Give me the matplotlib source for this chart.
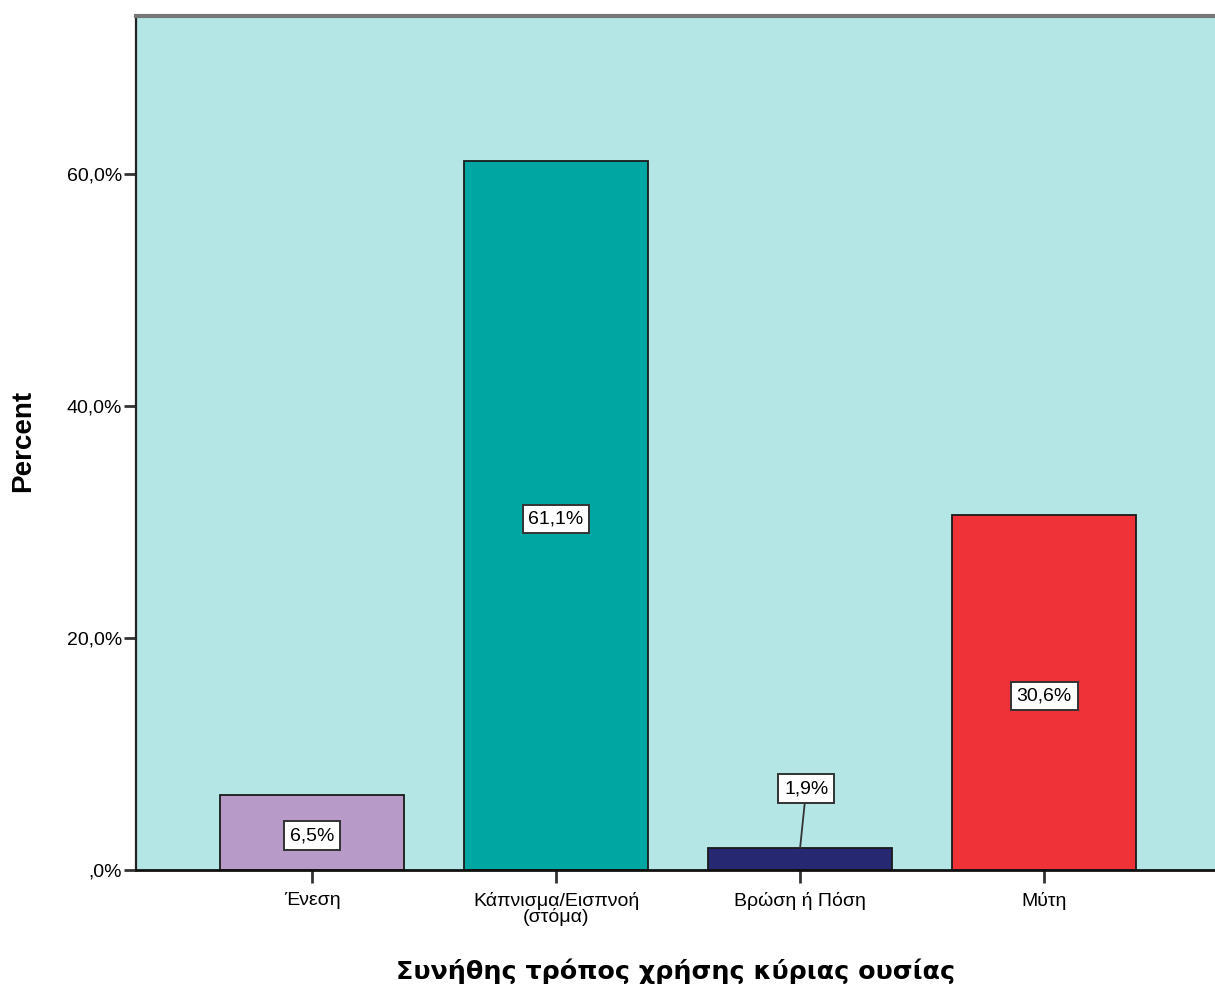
import matplotlib.pyplot as plt
from matplotlib.ticker import FuncFormatter

CATEGORIES = ["Ένεση", "Κάπνισμα/Εισπνοή\n(στόμα)", "Βρώση ή Πόση", "Μύτη"]
PERCENTS = [6.5, 61.1, 1.9, 30.6]
BAR_COLORS = ["#B89AC8", "#00A6A2", "#262872", "#EF3238"]
Y_TICKS = [0, 20, 40, 60]

plt.rcParams["font.family"] = ["Liberation Sans", "DejaVu Sans"]


def pct_label(value: float) -> str:
    text = f"{value:.1f}".replace(".", ",")
    if text.startswith("0,"):
        text = text[1:]
    return text + "%"


fig = plt.figure(figsize=(12.15, 9.85), dpi=100)
ax = fig.add_axes([136 / 1215, 1 - 870 / 985, 1 - 136 / 1215, (870 - 16) / 985])
ax.set_facecolor("#B4E6E6")

x = list(range(len(CATEGORIES)))
ax.bar(x, PERCENTS, width=0.754, color=BAR_COLORS, edgecolor="#1a1a1a",
       linewidth=1.3, zorder=2)

box = dict(boxstyle="square,pad=0.3", facecolor="white", edgecolor="#333333",
           linewidth=1.4)
for xi, value in zip(x, PERCENTS):
    label = pct_label(value)
    if value < 4:
        ax.annotate(label, xy=(xi, value), xytext=(xi + 0.025, value + 5.1),
                    ha="center", va="center", fontsize=14, bbox=box,
                    arrowprops=dict(arrowstyle="-", color="#333333", lw=1.3,
                                    shrinkA=0, shrinkB=0), zorder=3)
    else:
        ax.text(xi, value / 2 - 0.3, label, ha="center", va="center",
                fontsize=14, bbox=box, zorder=3)

ax.set_xlim(-0.721, 3.70)
ax.set_ylim(0, 73.6)
ax.set_xticks(x)
ax.set_xticklabels(CATEGORIES, fontsize=14, linespacing=0.92)
ax.set_yticks(Y_TICKS)
ax.yaxis.set_major_formatter(FuncFormatter(lambda v, _: pct_label(v)))
ax.tick_params(axis="y", labelsize=14, length=9, width=2, color="#333333", pad=1)
ax.tick_params(axis="x", length=9.5, width=2, color="#333333", pad=6)

ax.spines["left"].set_color("#222222")
ax.spines["left"].set_linewidth(1.6)
ax.spines["bottom"].set_color("#111111")
ax.spines["bottom"].set_linewidth(2)
ax.spines["top"].set_color("#777777")
ax.spines["top"].set_linewidth(3)
ax.spines["right"].set_visible(False)

ax.set_ylabel("Percent", fontsize=20, fontweight="bold")
ax.yaxis.set_label_coords(-0.093, 0.502)
ax.set_xlabel("Συνήθης τρόπος χρήσης κύριας ουσίας", fontsize=18.3,
              fontweight="bold", family=["DejaVu Sans"], labelpad=23)

fig.savefig("out.png", dpi=100)
